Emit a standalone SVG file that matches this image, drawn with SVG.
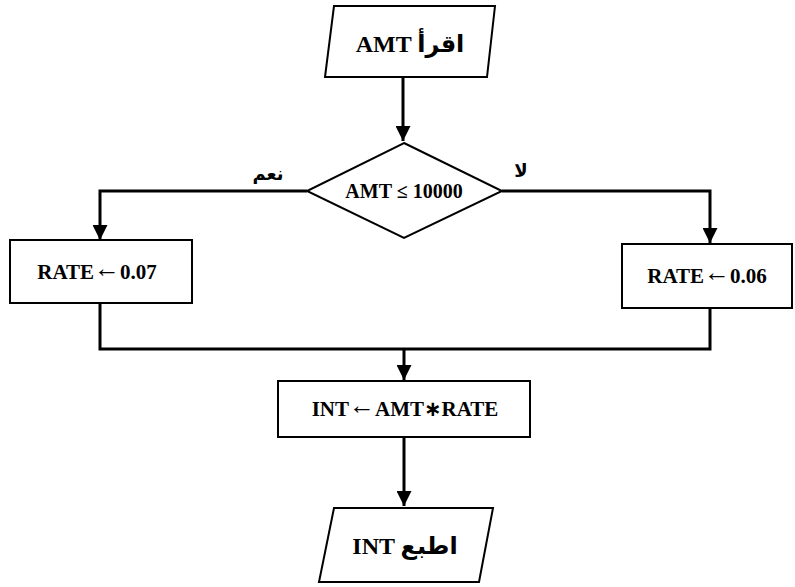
<svg xmlns="http://www.w3.org/2000/svg" width="795" height="587" viewBox="0 0 795 587">
<defs>
<marker id="ah" viewBox="0 0 10 10" refX="10" refY="5" markerWidth="5" markerHeight="5" markerUnits="strokeWidth" orient="auto">
<path d="M0,0 L10,5 L0,10 z" fill="#000"/>
</marker>
<style>
.shape{fill:#fff;stroke:#000;stroke-width:2}
.conn{fill:none;stroke:#000;stroke-width:3}
.t{font-family:"Liberation Serif","DejaVu Sans",serif;font-weight:bold;fill:#000;text-anchor:middle;dominant-baseline:central}
.ar{font-size:26px}
</style>
</defs>
<rect width="795" height="587" fill="#fff"/>
<g id="connectors">
<path class="conn" d="M403,77 V141" marker-end="url(#ah)"/>
<path class="conn" d="M307,191 H100 V240" marker-end="url(#ah)"/>
<path class="conn" d="M502,191 H710 V243" marker-end="url(#ah)"/>
<path class="conn" d="M100,303 V349 H710 V308"/>
<path class="conn" d="M404,349 V380" marker-end="url(#ah)"/>
<path class="conn" d="M404,437 V506" marker-end="url(#ah)"/>
<text class="t" x="268" y="174" font-size="18">نعم</text>
<text class="t" x="521" y="171" font-size="18">لا</text>
</g>
<g id="read">
<path class="shape" d="M334,6 H495 L487,77 H325 Z"/>
<text class="t" x="410" y="44" font-size="24">AMT اقرأ</text>
</g>
<g id="decision">
<path class="shape" d="M404,143 L502,191 L404,238 L307,191 Z"/>
<text class="t" x="404" y="191" font-size="20">AMT ≤ 10000</text>
</g>
<g id="rate7">
<rect class="shape" x="10" y="240" width="182" height="63"/>
<text class="t" x="97" y="272" font-size="21">RATE<tspan class="ar" dy="-4">←</tspan><tspan dy="4">0.07</tspan></text>
</g>
<g id="rate6">
<rect class="shape" x="622" y="244" width="170" height="64"/>
<text class="t" x="707" y="276" font-size="21">RATE<tspan class="ar" dy="-4">←</tspan><tspan dy="4">0.06</tspan></text>
</g>
<g id="compute">
<rect class="shape" x="278" y="381" width="252" height="56"/>
<text class="t" x="405" y="409" font-size="21">INT<tspan class="ar" dy="-4">←</tspan><tspan dy="4">AMT∗RATE</tspan></text>
</g>
<g id="print">
<path class="shape" d="M334,508 H493 L479,582 H319 Z"/>
<text class="t" x="405" y="546" font-size="24">INT اطبع</text>
</g>
</svg>
